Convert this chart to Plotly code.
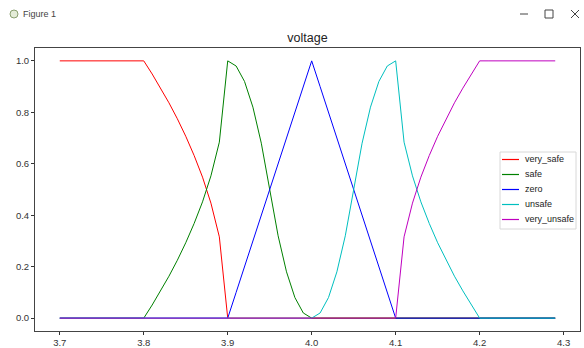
import plotly.graph_objects as go

# ---- data ----
x_vals = [round(3.70 + 0.01 * i, 2) for i in range(60)]

very_safe = [1.0] * 11 + [0.949, 0.894, 0.837, 0.775, 0.707, 0.632, 0.548, 0.447, 0.316, 0.0] + [0.0] * 39
safe = [0.0] * 11 + [0.051, 0.106, 0.163, 0.225, 0.293, 0.368, 0.452, 0.553, 0.684, 1.0] \
       + [0.98, 0.92, 0.82, 0.68, 0.50, 0.32, 0.18, 0.08, 0.02, 0.0] + [0.0] * 29
zero = [0.0] * 21 + [0.1, 0.2, 0.3, 0.4, 0.5, 0.6, 0.7, 0.8, 0.9, 1.0] \
       + [0.9, 0.8, 0.7, 0.6, 0.5, 0.4, 0.3, 0.2, 0.1, 0.0] + [0.0] * 19
unsafe = [0.0] * 31 + [0.02, 0.08, 0.18, 0.32, 0.50, 0.68, 0.82, 0.92, 0.98, 1.0] \
         + [0.684, 0.553, 0.452, 0.368, 0.293, 0.225, 0.163, 0.106, 0.051, 0.0] + [0.0] * 9
very_unsafe = [0.0] * 41 + [0.316, 0.447, 0.548, 0.632, 0.707, 0.775, 0.837, 0.894, 0.949, 1.0] + [1.0] * 9

series_names = ["very_safe", "safe", "zero", "unsafe", "very_unsafe"]
series_values = [very_safe, safe, zero, unsafe, very_unsafe]
series_colors = ["#ff0000", "#008000", "#0000ff", "#00bfbf", "#bf00bf"]

x_ticks = [3.7, 3.8, 3.9, 4.0, 4.1, 4.2, 4.3]
x_tick_labels = ["3.7", "3.8", "3.9", "4.0", "4.1", "4.2", "4.3"]
y_ticks = [0.0, 0.2, 0.4, 0.6, 0.8, 1.0]
y_tick_labels = ["0.0", "0.2", "0.4", "0.6", "0.8", "1.0"]

# ---- figure ----
W, H = 584, 348
ML, MR, MT, MB = 35, 4, 48, 17
FONT = "Liberation Sans"


def px(xp):
    return (xp - ML) / (W - ML - MR)


def py(yp):
    return (H - MB - yp) / (H - MT - MB)


fig = go.Figure()
for name, vals, col in zip(series_names, series_values, series_colors):
    fig.add_trace(go.Scatter(x=x_vals, y=vals, mode="lines", name=name,
                             line=dict(color=col, width=1), showlegend=False))

fig.update_layout(
    width=W, height=H, autosize=False,
    margin=dict(l=ML, r=MR, t=MT, b=MB, pad=0),
    paper_bgcolor="white", plot_bgcolor="white",
    font=dict(family=FONT, size=9.5, color="#333333"),
    title=dict(text="voltage", x=(ML + (W - MR)) / 2 / W, xanchor="center",
               y=1 - 38 / H, yanchor="middle", font=dict(size=12.5, color="#222222")),
    showlegend=False,
    xaxis=dict(range=[3.6705, 4.3195], tickvals=x_ticks, ticktext=x_tick_labels,
               ticks="outside", ticklen=3, tickcolor="#333333", showline=True, mirror=True,
               linecolor="#444444", linewidth=1, showgrid=False, zeroline=False,
               automargin=False),
    yaxis=dict(range=[-0.05, 1.05], tickvals=y_ticks, ticktext=y_tick_labels,
               ticks="outside", ticklen=3, tickcolor="#333333", showline=True, mirror=True,
               linecolor="#444444", linewidth=1, showgrid=False, zeroline=False,
               automargin=False),
)

# legend (matplotlib style box)
LEG_X0, LEG_X1, LEG_Y0, LEG_Y1 = 500, 576, 152, 229
fig.add_shape(type="rect", xref="paper", yref="paper",
              x0=px(LEG_X0), x1=px(LEG_X1), y0=py(LEG_Y1), y1=py(LEG_Y0),
              line=dict(color="#d8d8d8", width=1), fillcolor="white", layer="above")
for i, (name, col) in enumerate(zip(series_names, series_colors)):
    yrow = 159 + 15 * i
    fig.add_shape(type="line", xref="paper", yref="paper",
                  x0=px(502), x1=px(519), y0=py(yrow + 0.5), y1=py(yrow + 0.5),
                  line=dict(color=col, width=1.2), layer="above")
    fig.add_annotation(text=name, xref="paper", yref="paper", x=px(522.5), y=py(yrow),
                       xanchor="left", yanchor="middle", showarrow=False,
                       font=dict(size=9, color="#222222"))

# window title bar
fig.add_annotation(text="Figure 1", xref="paper", yref="paper", x=px(21), y=py(14),
                   xanchor="left", yanchor="middle", showarrow=False,
                   font=dict(size=9, color="#444444"))
shapes = [
    dict(type="circle", x0=px(10), x1=px(18), y0=py(18), y1=py(10),
         line=dict(color="#8aa070", width=1), fillcolor="#e4ecd8"),
    dict(type="line", x0=px(520), x1=px(528), y0=py(14), y1=py(14),
         line=dict(color="#444444", width=1)),
    dict(type="rect", x0=px(545), x1=px(553), y0=py(18), y1=py(10),
         line=dict(color="#444444", width=1)),
    dict(type="line", x0=px(571), x1=px(579), y0=py(18), y1=py(10),
         line=dict(color="#444444", width=1)),
    dict(type="line", x0=px(571), x1=px(579), y0=py(10), y1=py(18),
         line=dict(color="#444444", width=1)),
]
for s in shapes:
    fig.add_shape(xref="paper", yref="paper", **s)

fig.write_html("out.html", config={"displayModeBar": False},
               post_script="document.body.style.margin='0';")
